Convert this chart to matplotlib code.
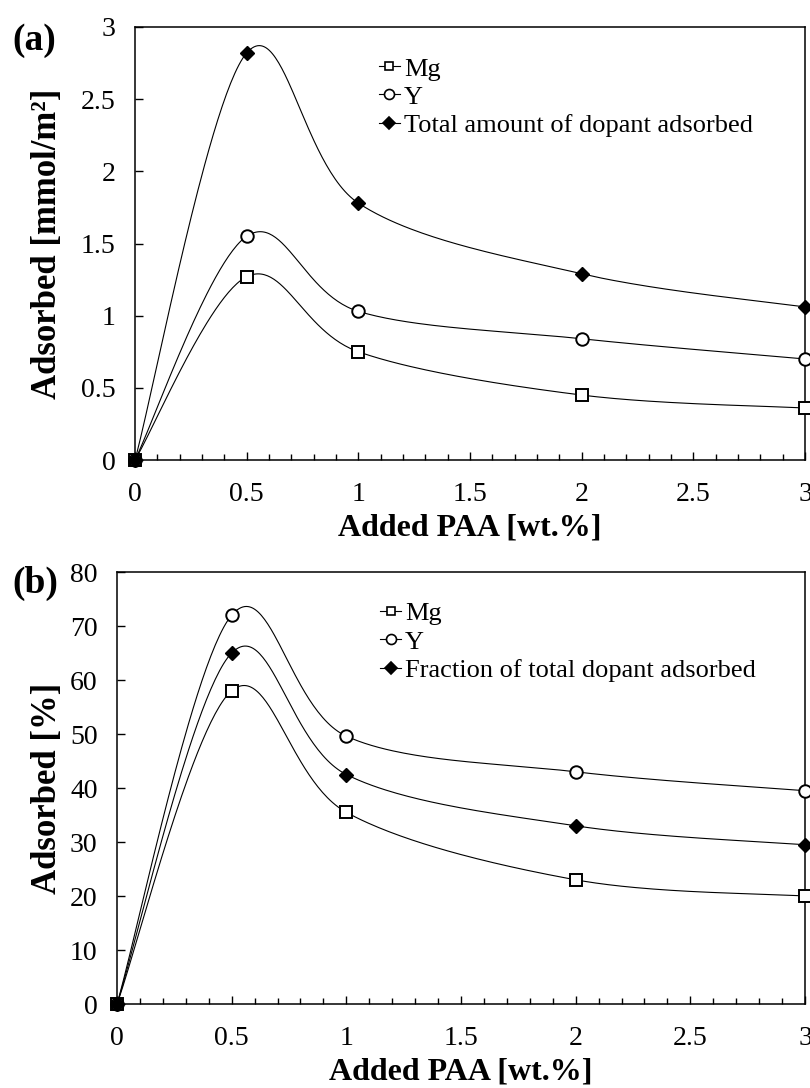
import numpy as np
import matplotlib
matplotlib.use('Agg')
import matplotlib.pyplot as plt
from matplotlib.ticker import MultipleLocator, FuncFormatter

plt.rcParams['font.family'] = ['Liberation Serif', 'DejaVu Serif']

# データ
paa = [0, 0.5, 1, 2, 3]

# (a) 吸着量 [mmol/m2]
mg_amount = [0, 1.27, 0.75, 0.45, 0.36]
y_amount = [0, 1.55, 1.03, 0.84, 0.70]
total_amount = [0, 2.82, 1.78, 1.29, 1.06]

# (b) 吸着率 [%]
mg_frac = [0, 58, 35.5, 23, 20]
y_frac = [0, 72, 49.6, 43, 39.5]
total_frac = [0, 65, 42.5, 33, 29.5]

W, H = 810, 1088
fig = plt.figure(figsize=(W / 100, H / 100), dpi=100)


def px_axes(left, right, top, bottom):
    return fig.add_axes([left / W, 1 - bottom / H, (right - left) / W, (bottom - top) / H])


def smooth_line(ax, x, y):
    # Excel風のスムージング（表示座標でのCatmull-Rom ベジェ）
    pts = ax.transData.transform(np.column_stack([x, y]))
    n = len(pts)
    out = []
    t = np.linspace(0, 1, 60)[:, None]
    for i in range(n - 1):
        p0 = pts[i]
        p3 = pts[i + 1]
        pm = pts[i - 1] if i > 0 else pts[i]
        pp = pts[i + 2] if i + 2 < n else pts[i + 1]
        c1 = p0 + (p3 - pm) / 6
        c2 = p3 - (pp - p0) / 6
        seg = ((1 - t) ** 3) * p0 + 3 * ((1 - t) ** 2) * t * c1 + 3 * (1 - t) * t ** 2 * c2 + t ** 3 * p3
        out.append(seg)
    out = np.vstack(out)
    data = ax.transData.inverted().transform(out)
    ax.plot(data[:, 0], data[:, 1], color='black', lw=0.8, zorder=2)


def setup(ax, ymax, ystep):
    ax.set_xlim(0, 3)
    ax.set_ylim(0, ymax)
    ax.xaxis.set_major_locator(MultipleLocator(0.5))
    ax.xaxis.set_minor_locator(MultipleLocator(0.1))
    ax.yaxis.set_major_locator(MultipleLocator(ystep))
    fmt = FuncFormatter(lambda v, p: '%g' % round(v, 3))
    ax.xaxis.set_major_formatter(fmt)
    ax.yaxis.set_major_formatter(fmt)
    ax.tick_params(axis='both', which='major', direction='in', length=6, width=1,
                   labelsize=20, pad=16)
    ax.tick_params(axis='x', which='minor', direction='in', length=4, width=1)
    ax.tick_params(axis='y', which='major', pad=14)
    for s in ax.spines.values():
        s.set_linewidth(1.1)


markers = [
    dict(marker='s', ms=8, mfc='white', mec='black', mew=1.4),
    dict(marker='o', ms=9, mfc='white', mec='black', mew=1.4),
    dict(marker='D', ms=7.5, mfc='black', mec='black', mew=1),
]

panels = [
    (px_axes(135, 805, 27, 460), [mg_amount, y_amount, total_amount],
     ['Mg', 'Y', 'Total amount of dopant adsorbed'], 3, 0.5,
     'Adsorbed [mmol/m²]', '(a)', 40, 0.348),
    (px_axes(117, 805, 572, 1004), [mg_frac, y_frac, total_frac],
     ['Mg', 'Y', 'Fraction of total dopant adsorbed'], 80, 10,
     'Adsorbed [%]', '(b)', 583, 0.367),
]

for ax, series, labels, ymax, ystep, ylab, tag, tag_y, leg_x in panels:
    setup(ax, ymax, ystep)
    handles = []
    for vals, lab, mk in zip(series, labels, markers):
        smooth_line(ax, paa, vals)
        ax.plot(paa, vals, linestyle='none', zorder=3, clip_on=False, **mk)
        h, = ax.plot([], [], color='black', lw=0.8, label=lab,
                     **{**mk, 'ms': mk['ms'] * 0.8, 'mew': 1.2})
        handles.append(h)
    ax.legend(handles=handles, loc='upper left', bbox_to_anchor=(leg_x, 0.955),
              frameon=False, fontsize=19, handlelength=0.8, handletextpad=0.15,
              labelspacing=0.18, borderaxespad=0)
    ax.set_ylabel(ylab, fontsize=25, fontweight='bold')
    ax.set_xlabel('Added PAA [wt.%]', fontsize=23, fontweight='bold')
    pos = ax.get_position()
    left_px = pos.x0 * W
    width_px = pos.width * W
    height_px = pos.height * H
    ax.yaxis.set_label_coords((64 - left_px) / width_px, 0.5)
    ax.xaxis.set_label_coords(0.5, -54 / height_px)
    fig.text(12 / W, 1 - tag_y / H, tag, fontsize=27, fontweight='bold',
             ha='left', va='center')

fig.savefig('out.png', dpi=100)
